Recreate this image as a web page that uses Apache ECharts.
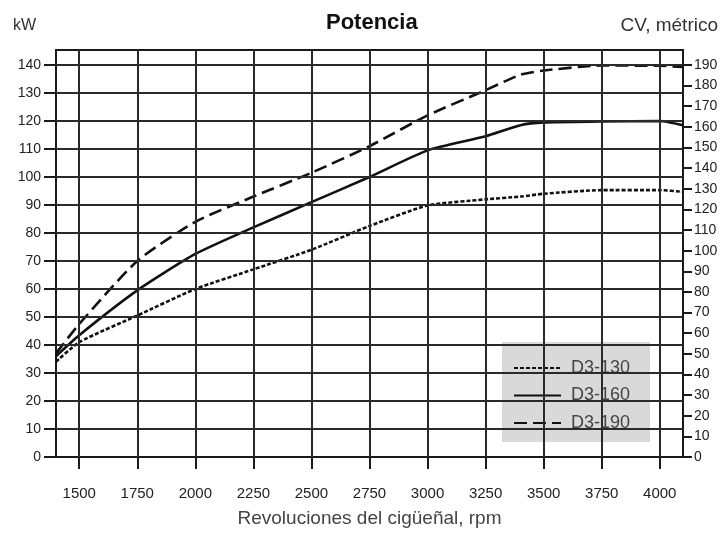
<!DOCTYPE html>
<html>
<head>
<meta charset="utf-8">
<title>Potencia</title>
<script src="https://cdn.jsdelivr.net/npm/echarts@6/dist/echarts.min.js"></script>
<style>
  html, body { margin: 0; padding: 0; background: #fff; }
  #chart { width: 726px; height: 533px; }
</style>
</head>
<body>
<div id="chart"></div>
<script>
// Engine speed (rpm) at which each curve is sampled
const rpm = [1400, 1500, 1750, 2000, 2250, 2500, 2750, 3000, 3250, 3400, 3500, 3750, 4000, 4100];
// Power output, kW
const d3_130 = [34, 41, 50.5, 60, 67, 74, 82.5, 89.8, 92, 93, 94, 95.3, 95.3, 94.7];
const d3_160 = [36, 43.5, 59.5, 72.5, 82, 91, 100, 109.5, 114.5, 118.5, 119.5, 119.8, 120, 118.5];
const d3_190 = [37, 47.5, 70, 84, 93, 101.5, 111, 122, 131, 136.5, 138, 139.8, 139.7, 139.3];

// Axis tick values
const rpmTicks = [1500, 1750, 2000, 2250, 2500, 2750, 3000, 3250, 3500, 3750, 4000];
const kwTicks = [0, 10, 20, 30, 40, 50, 60, 70, 80, 90, 100, 110, 120, 130, 140];
const cvTicks = [0, 10, 20, 30, 40, 50, 60, 70, 80, 90, 100, 110, 120, 130, 140, 150, 160, 170, 180, 190];

const KW_MAX = 145.34;
const CV_MAX = KW_MAX * 190 / 140;   // right scale in metric horsepower, sharing the same frame
const FONT = '"Liberation Sans", Arial, sans-serif';
const INK = '#1a1a1a';

const pair = (xs, ys) => xs.map((x, i) => [x, ys[i]]);
const plain = v => String(v);

const chart = echarts.init(document.getElementById('chart'), null, { renderer: 'canvas' });

chart.setOption({
  backgroundColor: '#ffffff',
  animation: false,
  title: [
    { text: 'Potencia', left: 321, top: 7,
      textStyle: { fontFamily: FONT, fontSize: 22, fontWeight: 'bold', color: '#111' } },
    { text: 'kW', left: 8, top: 13,
      textStyle: { fontFamily: FONT, fontSize: 16, fontWeight: 'normal', color: '#333' } },
    { text: 'CV, métrico', right: 3, top: 11,
      textStyle: { fontFamily: FONT, fontSize: 19, fontWeight: 'normal', color: '#333' } }
  ],
  grid: {
    left: 56, right: 43, top: 50, bottom: 75,
    show: true, borderColor: INK, borderWidth: 2, backgroundColor: '#fff'
  },
  legend: {
    orient: 'vertical',
    left: 502, top: 342,
    padding: [17, 20, 10, 11],
    backgroundColor: '#d9d9d9',
    itemWidth: 47, itemHeight: 16, itemGap: 9.5,
    itemStyle: { color: 'transparent', borderColor: 'transparent', borderWidth: 0 },
    textStyle: { fontFamily: FONT, fontSize: 18, color: '#444', padding: [0, 0, 0, 5] },
    data: ['D3-130', 'D3-160', 'D3-190']
  },
  xAxis: [
    {
      type: 'value', position: 'bottom', min: 1400, max: 4100,
      name: 'Revoluciones del cigüeñal, rpm', nameLocation: 'middle', nameGap: 52,
      nameTextStyle: { fontFamily: FONT, fontSize: 19, color: '#444' },
      axisLine: { show: false },
      axisTick: { show: true, inside: false, length: 12, customValues: rpmTicks,
                  lineStyle: { color: INK, width: 2 } },
      axisLabel: { customValues: rpmTicks, margin: 29, formatter: plain,
                   fontFamily: FONT, fontSize: 15, color: '#222' },
      splitLine: { show: false }
    },
    {
      type: 'value', position: 'top', min: 1400, max: 4100,
      axisLine: { show: false },
      axisTick: { show: true, inside: false, length: 12, customValues: rpmTicks,
                  lineStyle: { color: INK, width: 2 } },
      axisLabel: { show: false },
      splitLine: { show: false }
    }
  ],
  yAxis: [
    {
      type: 'value', position: 'left', min: 0, max: KW_MAX,
      axisLine: { show: false },
      axisTick: { show: true, inside: false, length: 12, customValues: kwTicks,
                  lineStyle: { color: INK, width: 2 } },
      axisLabel: { customValues: kwTicks, margin: 15, formatter: plain,
                   fontFamily: FONT, fontSize: 14, color: '#222' },
      splitLine: { show: false }
    },
    {
      type: 'value', position: 'right', min: 0, max: CV_MAX,
      axisLine: { show: false },
      axisTick: { show: true, inside: false, length: 9, customValues: cvTicks,
                  lineStyle: { color: INK, width: 2 } },
      axisLabel: { customValues: cvTicks, margin: 11, formatter: plain,
                   fontFamily: FONT, fontSize: 14, color: '#222' },
      splitLine: { show: false }
    }
  ],
  series: [
    {
      // Frame grid: verticals at each labelled rpm, horizontals at each 10 kW
      name: 'grid', type: 'line', data: [], silent: true,
      xAxisIndex: 0, yAxisIndex: 0, z: 1,
      markLine: {
        silent: true, symbol: 'none', animation: false,
        label: { show: false },
        lineStyle: { color: '#2a2a2a', width: 2, type: 'solid' },
        data: rpmTicks.map(v => ({ xAxis: v }))
          .concat(kwTicks.filter(v => v > 0).map(v => ({ yAxis: v })))
      }
    },
    {
      name: 'D3-130', type: 'line', data: pair(rpm, d3_130),
      xAxisIndex: 0, yAxisIndex: 0, z: 3,
      symbol: 'none', smooth: 0.2,
      lineStyle: { color: '#111', width: 2.6, type: [4, 2] },
      itemStyle: { color: '#111' }
    },
    {
      name: 'D3-160', type: 'line', data: pair(rpm, d3_160),
      xAxisIndex: 0, yAxisIndex: 0, z: 3,
      symbol: 'none', smooth: 0.2,
      lineStyle: { color: '#111', width: 2.6, type: 'solid' },
      itemStyle: { color: '#111' }
    },
    {
      name: 'D3-190', type: 'line', data: pair(rpm, d3_190),
      xAxisIndex: 0, yAxisIndex: 0, z: 3,
      symbol: 'none', smooth: 0.2,
      lineStyle: { color: '#111', width: 2.6, type: [13, 6] },
      itemStyle: { color: '#111' }
    }
  ]
});
</script>
</body>
</html>
